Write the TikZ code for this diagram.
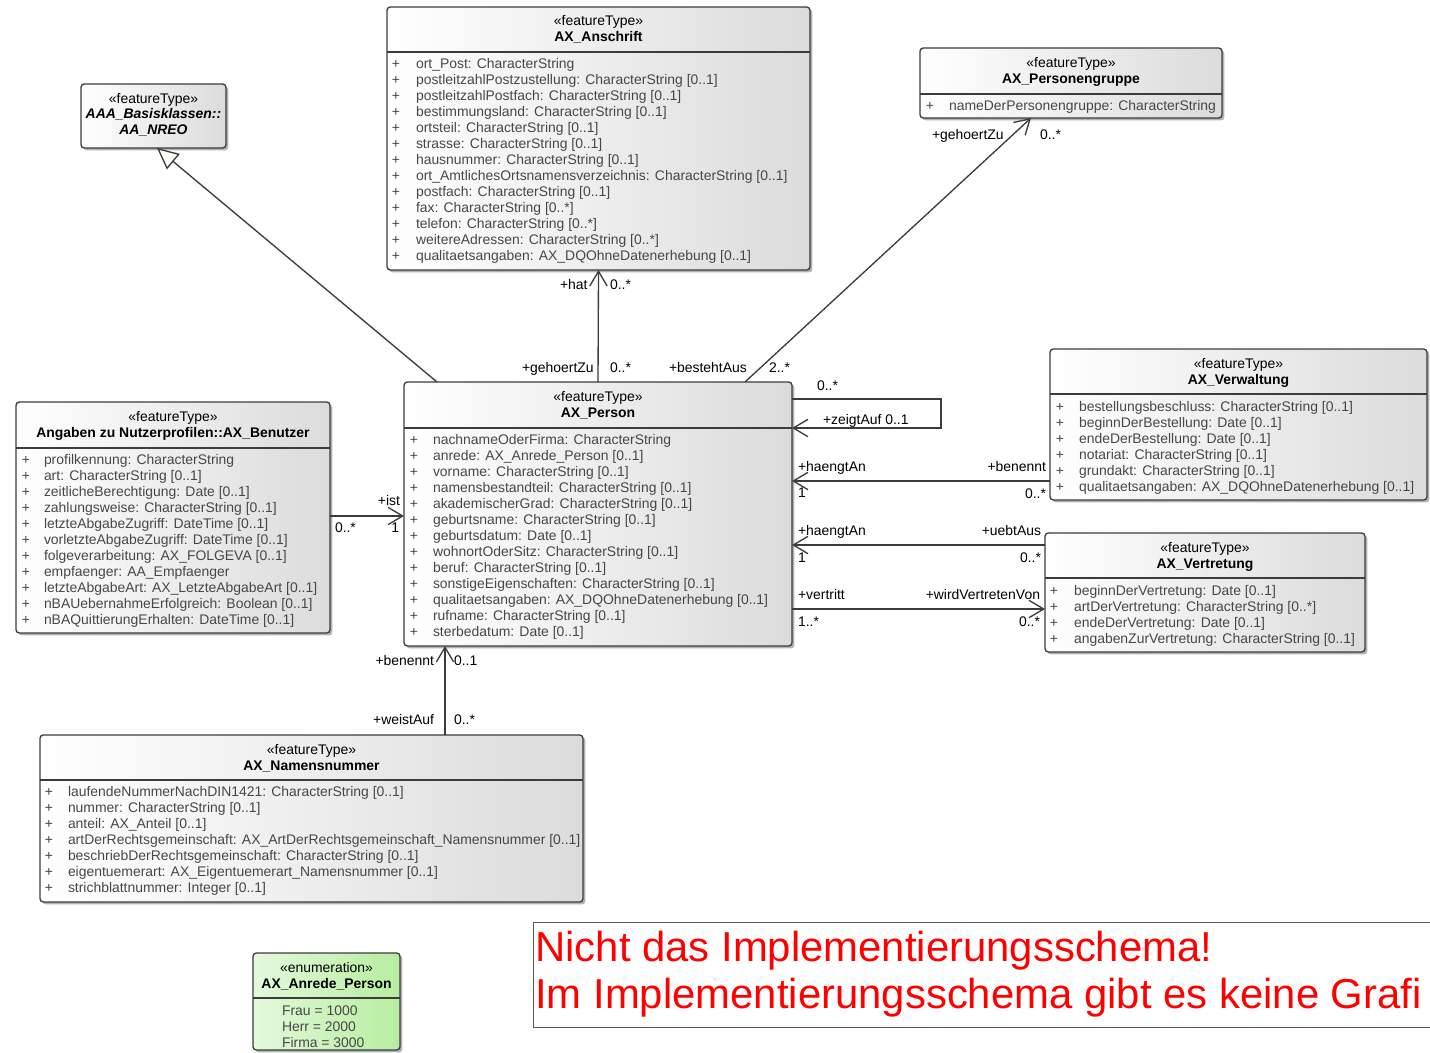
\documentclass[tikz,border=0pt]{standalone}
\usepackage{fontspec}
\setmainfont{Liberation Sans}
\usetikzlibrary{arrows.meta,shadows,calc}
\newcommand\fs{\fontsize{10.45pt}{12pt}\selectfont}
\definecolor{linegray}{HTML}{3C3C3C}
\definecolor{enumL}{HTML}{E4F9DA}
\definecolor{enumR}{HTML}{B6EDA0}
\tikzset{
 umlbox/.style={draw=linegray, line width=1pt, rounded corners=2.5pt, left color=white, right color=black!14,
   drop shadow={shadow xshift=1.8pt, shadow yshift=-1.8pt, opacity=0.3, fill=black}, inner sep=0pt, outer sep=0pt},
 enumbox/.style={umlbox, left color=enumL, right color=enumR},
 divline/.style={draw=linegray, line width=1pt},
 txt/.style={font=\fs, inner sep=0pt, outer sep=0pt},
 attr/.style={txt, text=black!72},
 plus/.style={txt, text=black!72},
 lbl/.style={txt, text=black},
 stereo/.style={txt, text=black},
 cname/.style={txt, font=\fs\bfseries},
 assoc/.style={draw=linegray, line width=1pt, -{Straight Barb[length=11pt,width=13pt]}},
 gen/.style={draw=linegray, line width=1pt, -{Triangle[open, length=16pt, width=15pt, fill=yellow!4]}},
 redtxt/.style={inner sep=0pt, text=red, font=\fontsize{31.4pt}{35pt}\selectfont}
}
\newcommand\umlbox[7][umlbox]{% style, name, x1, y1, x2, y2, divider
 \node[#1, anchor=north west, minimum width={(#5-#3)*0.75pt}, minimum height={(#6-#4)*0.75pt}] (#2) at (#3,#4) {};
 \draw[divline] (#2.west |- 0,#7) -- (#2.east |- 0,#7);
}
\newcommand\attrlist[5]{% prefix, plusx, textx, firstcenter, list
 \foreach \t [count=\i from 0] in {#5} {
  \node[plus, anchor=base] (#1p\i) at (#2, #4+4.5+16*\i) {+};
  \node[attr, anchor=base west] (#1a\i) at (#3, #4+4.5+16*\i) {\t};
 }
}
\newcommand\header[4]{% prefix, cx, stereo center, name
 \node[stereo, anchor=base] (#1s) at (#2, #3+4.5) {«featureType»};
 \node[cname, anchor=base] (#1n) at (#2, #3+20.5) {#4};
}
\begin{document}
\begin{tikzpicture}[x=0.75pt,y=-0.75pt]
\useasboundingbox (0,0) rectangle (1430,1052);
\clip (0,0) rectangle (1430,1052);
\fill[white] (0,0) rectangle (1430,1052);

% ---- AX_Anschrift
\umlbox{ans}{387}{7}{810}{270}{52}
\header{ans}{598.5}{21}{AX\_Anschrift}
\attrlist{ans}{396}{416}{64}{ort\_Post: CharacterString,
 postleitzahlPostzustellung: CharacterString [0..1],
 postleitzahlPostfach: CharacterString [0..1],
 bestimmungsland: CharacterString [0..1],
 ortsteil: CharacterString [0..1],
 strasse: CharacterString [0..1],
 hausnummer: CharacterString [0..1],
 ort\_AmtlichesOrtsnamensverzeichnis: CharacterString [0..1],
 postfach: CharacterString [0..1],
 fax: CharacterString [0..*],
 telefon: CharacterString [0..*],
 weitereAdressen: CharacterString [0..*],
 qualitaetsangaben: AX\_DQOhneDatenerhebung [0..1]}

% ---- AX_Personengruppe
\umlbox{grp}{920}{48}{1222}{118}{94}
\header{grp}{1071}{63}{AX\_Personengruppe}
\attrlist{grp}{930}{949}{106}{nameDerPersonengruppe: CharacterString}

% ---- AAA_Basisklassen::AA_NREO
\node[umlbox, anchor=north west, minimum width={145*0.75pt}, minimum height={64*0.75pt}] (basis) at (81,84) {};
\node[stereo, anchor=base] (basiss) at (153.5,103.5) {«featureType»};
\node[txt, font=\fs\bfseries\itshape, anchor=base] (basisn1) at (153.5,118.5) {AAA\_Basisklassen::};
\node[txt, font=\fs\bfseries\itshape, anchor=base] (basisn2) at (153.5,134.5) {AA\_NREO};

% ---- Benutzer
\umlbox{ben}{16}{402}{330}{633}{448}
\header{ben}{173}{417}{Angaben zu Nutzerprofilen::AX\_Benutzer}
\attrlist{ben}{26}{44}{460}{profilkennung: CharacterString,
 art: CharacterString [0..1],
 zeitlicheBerechtigung: Date [0..1],
 zahlungsweise: CharacterString [0..1],
 letzteAbgabeZugriff: DateTime [0..1],
 vorletzteAbgabeZugriff: DateTime [0..1],
 folgeverarbeitung: AX\_FOLGEVA [0..1],
 empfaenger: AA\_Empfaenger,
 letzteAbgabeArt: AX\_LetzteAbgabeArt [0..1],
 nBAUebernahmeErfolgreich: Boolean [0..1],
 nBAQuittierungErhalten: DateTime [0..1]}

% ---- AX_Person
\umlbox{per}{404}{382}{792}{646}{428}
\header{per}{598}{397}{AX\_Person}
\attrlist{per}{414}{433}{440}{nachnameOderFirma: CharacterString,
 anrede: AX\_Anrede\_Person [0..1],
 vorname: CharacterString [0..1],
 namensbestandteil: CharacterString [0..1],
 akademischerGrad: CharacterString [0..1],
 geburtsname: CharacterString [0..1],
 geburtsdatum: Date [0..1],
 wohnortOderSitz: CharacterString [0..1],
 beruf: CharacterString [0..1],
 sonstigeEigenschaften: CharacterString [0..1],
 qualitaetsangaben: AX\_DQOhneDatenerhebung [0..1],
 rufname: CharacterString [0..1],
 sterbedatum: Date [0..1]}

% ---- AX_Verwaltung
\umlbox{verw}{1050}{349}{1427}{500}{394}
\header{verw}{1238.5}{364}{AX\_Verwaltung}
\attrlist{verw}{1060}{1079}{407}{bestellungsbeschluss: CharacterString [0..1],
 beginnDerBestellung: Date [0..1],
 endeDerBestellung: Date [0..1],
 notariat: CharacterString [0..1],
 grundakt: CharacterString [0..1],
 qualitaetsangaben: AX\_DQOhneDatenerhebung [0..1]}

% ---- AX_Vertretung
\umlbox{vert}{1045}{533}{1365}{652}{578}
\header{vert}{1205}{548}{AX\_Vertretung}
\attrlist{vert}{1054}{1074}{591}{beginnDerVertretung: Date [0..1],
 artDerVertretung: CharacterString [0..*],
 endeDerVertretung: Date [0..1],
 angabenZurVertretung: CharacterString [0..1]}

% ---- AX_Namensnummer
\umlbox{nam}{40}{735}{583}{902}{780}
\header{nam}{311.5}{750}{AX\_Namensnummer}
\attrlist{nam}{49}{68}{792}{laufendeNummerNachDIN1421: CharacterString [0..1],
 nummer: CharacterString [0..1],
 anteil: AX\_Anteil [0..1],
 artDerRechtsgemeinschaft: AX\_ArtDerRechtsgemeinschaft\_Namensnummer [0..1],
 beschriebDerRechtsgemeinschaft: CharacterString [0..1],
 eigentuemerart: AX\_Eigentuemerart\_Namensnummer [0..1],
 strichblattnummer: Integer [0..1]}

% ---- Enumeration
\umlbox[enumbox]{enm}{253}{953}{400}{1050}{998}
\node[stereo, anchor=base] (enms) at (326.5,972.5) {«enumeration»};
\node[cname, anchor=base] (enmn) at (326.5,988.5) {AX\_Anrede\_Person};
\node[attr, anchor=base west] (enm1) at (282,1015.5) {Frau = 1000};
\node[attr, anchor=base west] (enm2) at (282,1031.5) {Herr = 2000};
\node[attr, anchor=base west] (enm3) at (282,1047) {Firma = 3000};

% ---- Red note
\node[draw=black!65, line width=0.7pt, fill=white, anchor=north west, minimum width={920*0.75pt}, minimum height={105*0.75pt}, inner sep=0pt] (note) at (533,922) {};
\node[redtxt, anchor=base west] (note1) at (535,961) {Nicht das Implementierungsschema!};
\node[redtxt, anchor=base west] (note2) at (535,1008) {Im Implementierungsschema gibt es keine Grafi};

% ---- Connectors
\draw[gen] (per.north -| 437,0) -- (basis.south -| 157,0);
\draw[assoc] (per.north) -- (ans.south);
\draw[assoc] (per.north -| 745,0) -- (grp.south -| 1031,0);
\coordinate (zr1) at (941,399);
\coordinate (zr2) at (941,428);
\draw[assoc] (per.east |- zr1) -- (zr1) -- (zr2) -- (per.east |- zr2);
\draw[assoc] (verw.west |- 0,481) -- (per.east |- 0,481);
\draw[assoc] (vert.west |- 0,545) -- (per.east |- 0,545);
\draw[assoc] (per.east |- 0,609) -- (vert.west |- 0,609);
\draw[assoc] (ben.east |- 0,516) -- (per.west |- 0,516);
\draw[assoc] (nam.north -| 445,0) -- (per.south -| 445,0);

% ---- Connector labels
\node[lbl, anchor=base west] (l1) at (560,289.5) {+hat};
\node[lbl, anchor=base west] (l2) at (610,289.5) {0..*};
\node[lbl, anchor=base west] (l3) at (522,372.5) {+gehoertZu};
\node[lbl, anchor=base west] (l4) at (610,372.5) {0..*};
\node[lbl, anchor=base west] (l5) at (669,372.5) {+bestehtAus};
\node[lbl, anchor=base west] (l6) at (769,372.5) {2..*};
\node[lbl, anchor=base west] (l7) at (932,139.5) {+gehoertZu};
\node[lbl, anchor=base west] (l8) at (1040,139.5) {0..*};
\node[lbl, anchor=base west] (l9) at (817,390.5) {0..*};
\node[lbl, anchor=base west] (l10) at (823,424.5) {+zeigtAuf 0..1};
\node[lbl, anchor=base west] (l11) at (798,471.5) {+haengtAn};
\node[lbl, anchor=base west] (l12) at (798,497.5) {1};
\node[lbl, anchor=base east] (l13) at (1046,471.5) {+benennt};
\node[lbl, anchor=base east] (l14) at (1046,498.5) {0..*};
\node[lbl, anchor=base west] (l15) at (798,535.5) {+haengtAn};
\node[lbl, anchor=base west] (l16) at (798,562.5) {1};
\node[lbl, anchor=base east] (l17) at (1041,535.5) {+uebtAus};
\node[lbl, anchor=base east] (l18) at (1041,562.5) {0..*};
\node[lbl, anchor=base west] (l19) at (798,599.5) {+vertritt};
\node[lbl, anchor=base west] (l20) at (798,626.5) {1..*};
\node[lbl, anchor=base east] (l21) at (1040,599.5) {+wirdVertretenVon};
\node[lbl, anchor=base east] (l22) at (1040,626.5) {0..*};
\node[lbl, anchor=base east] (l23) at (400,505.5) {+ist};
\node[lbl, anchor=base east] (l24) at (399,532.5) {1};
\node[lbl, anchor=base west] (l25) at (335,532.5) {0..*};
\node[lbl, anchor=base east] (l26) at (434,665.5) {+benennt};
\node[lbl, anchor=base west] (l27) at (454,665.5) {0..1};
\node[lbl, anchor=base east] (l28) at (434,724.5) {+weistAuf};
\node[lbl, anchor=base west] (l29) at (454,724.5) {0..*};
\end{tikzpicture}
\end{document}
